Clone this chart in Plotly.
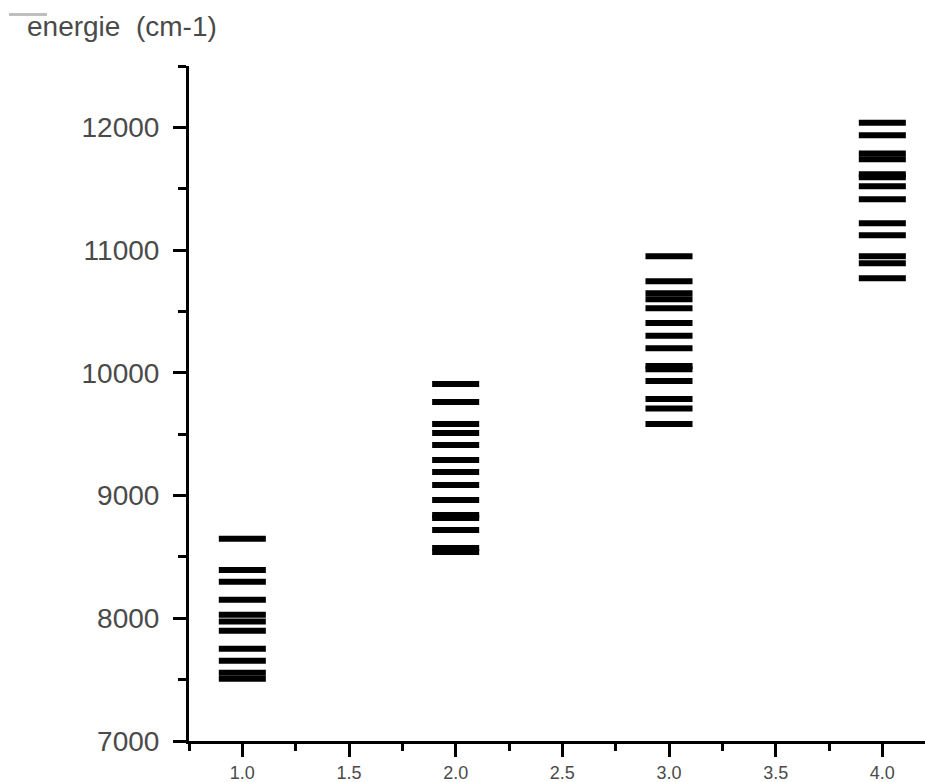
import plotly.graph_objects as go

# Energy levels (cm-1) for each of the four manifolds
manifold = [1, 2, 3, 4]
levels_1 = [8647, 8394, 8297, 8150, 8028, 7973, 7898, 7751, 7654, 7556, 7507]
levels_2 = [9908, 9762, 9583, 9509, 9412, 9290, 9192, 9086, 8964, 8842, 8817,
            8720, 8573, 8541]
levels_3 = [10950, 10747, 10649, 10600, 10527, 10405, 10303, 10201, 10055,
            10030, 9933, 9786, 9709, 9583]
levels_4 = [12037, 11935, 11788, 11740, 11617, 11593, 11520, 11414, 11219,
            11121, 10950, 10893, 10771]

groups = [levels_1, levels_2, levels_3, levels_4]

xs, ys = [], []
for m, lv in zip(manifold, groups):
    xs.extend([m] * len(lv))
    ys.extend(lv)

FONT = "Liberation Sans, Arial, sans-serif"
TXT = "#4a4a4a"

fig = go.Figure()
# each level is a short horizontal dash centred on its manifold index
fig.add_trace(go.Scatter(
    x=xs, y=ys, mode="markers",
    marker=dict(symbol="line-ew", size=33.6, color="black",
                line=dict(color="black", width=6)),
    showlegend=False, hoverinfo="y",
))

fig.update_layout(
    width=925, height=782,
    margin=dict(l=189, r=0, t=66, b=41),
    plot_bgcolor="white", paper_bgcolor="white",
    font=dict(family=FONT, size=28, color=TXT),
    xaxis=dict(
        range=[0.75, 4.2], showgrid=False, zeroline=False, automargin=False,
        showline=True, linecolor="black", linewidth=3,
        ticks="outside", ticklen=13, tickwidth=3, tickcolor="black",
        tick0=1.0, dtick=0.5, tickformat=".1f",
        minor=dict(dtick=0.25, ticks="outside", ticklen=7, tickwidth=3,
                   tickcolor="black", showgrid=False),
        tickfont=dict(family=FONT, size=18, color=TXT),
        ticklabelstandoff=0,
    ),
    yaxis=dict(
        range=[7000, 12500], showgrid=False, zeroline=False, automargin=False,
        showline=True, linecolor="black", linewidth=3,
        ticks="outside", ticklen=13, tickwidth=3, tickcolor="black",
        tick0=7000, dtick=1000, tickformat="d",
        minor=dict(dtick=500, ticks="outside", ticklen=8, tickwidth=3,
                   tickcolor="black", showgrid=False),
        tickfont=dict(family=FONT, size=28, color=TXT),
        ticklabelstandoff=8,
    ),
    annotations=[dict(
        text="energie  (cm-1)", xref="paper", yref="paper",
        x=-0.2228, y=1.0578, xanchor="left", yanchor="middle",
        showarrow=False, font=dict(family=FONT, size=28, color=TXT),
    )],
    shapes=[dict(
        type="line", xref="paper", yref="paper",
        x0=-0.2446, x1=-0.1929, y0=1.0763, y1=1.0763,
        line=dict(color="#bfbfbf", width=3),
    )],
)

fig.write_html("out.html")
